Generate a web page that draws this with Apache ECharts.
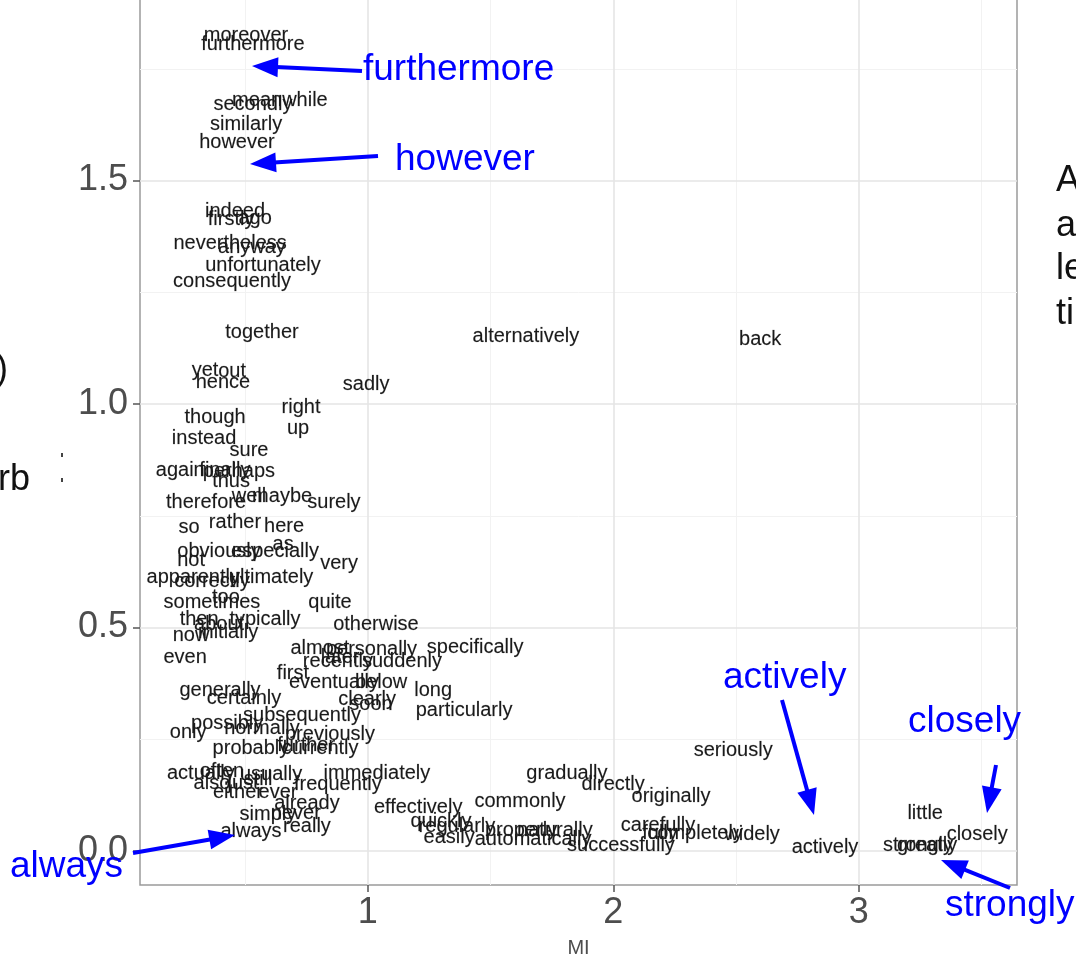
<!DOCTYPE html>
<html>
<head>
<meta charset="utf-8">
<script src="https://cdn.jsdelivr.net/npm/echarts@6/dist/echarts.min.js"></script>
<style>
  html, body { margin: 0; padding: 0; background: #ffffff; }
  #chart { width: 1076px; height: 957px; }
</style>
</head>
<body>
<div id="chart"></div>
<script>
// Adverbs placed by their MI score (x) and their score on the vertical scale (y)
const words = [
  'moreover', 'furthermore', 'meanwhile', 'secondly', 'similarly', 'however',
  'indeed', 'firstly', 'ago', 'nevertheless', 'anyway', 'unfortunately', 'consequently',
  'together', 'alternatively', 'back',
  'yet', 'out', 'hence', 'sadly', 'right', 'though', 'up', 'instead', 'sure',
  'again', 'finally', 'perhaps', 'thus', 'well', 'maybe', 'therefore', 'surely',
  'so', 'rather', 'here', 'as', 'obviously', 'not', 'especially', 'very',
  'apparently', 'correctly', 'ultimately', 'too', 'sometimes', 'quite',
  'then', 'typically', 'about', 'now', 'initially', 'otherwise', 'even',
  'almost', 'personally', 'specifically', 'later', 'recently', 'suddenly',
  'first', 'eventually', 'below', 'long', 'clearly', 'soon', 'particularly',
  'generally', 'certainly', 'subsequently', 'possibly', 'normally', 'only',
  'previously', 'probably', 'currently', 'further',
  'actually', 'often', 'usually', 'immediately', 'also', 'just', 'still',
  'frequently', 'either', 'ever', 'already', 'effectively', 'simply', 'never',
  'really', 'always',
  'gradually', 'directly', 'commonly', 'originally', 'quickly', 'regularly',
  'properly', 'easily', 'automatically', 'naturally', 'successfully',
  'carefully', 'fully', 'completely', 'widely', 'seriously', 'actively',
  'little', 'closely', 'strongly', 'greatly'
];

const miValues = [
  0.504, 0.532, 0.642, 0.532, 0.504, 0.467,
  0.459, 0.443, 0.541, 0.439, 0.528, 0.573, 0.447,
  0.569, 1.644, 2.598,
  0.337, 0.447, 0.410, 0.993, 0.728, 0.378, 0.716, 0.333, 0.516,
  0.236, 0.418, 0.475, 0.443, 0.516, 0.651, 0.341, 0.862,
  0.272, 0.459, 0.659, 0.655, 0.394, 0.280, 0.622, 0.883,
  0.289, 0.365, 0.606, 0.422, 0.365, 0.846,
  0.313, 0.581, 0.394, 0.280, 0.431, 1.033, 0.256,
  0.805, 1.015, 1.437, 0.887, 0.878, 1.139,
  0.695, 0.862, 1.054, 1.266, 0.997, 1.013, 1.392,
  0.398, 0.496, 0.732, 0.427, 0.569, 0.268,
  0.846, 0.524, 0.806, 0.749,
  0.320, 0.406, 0.606, 1.037, 0.365, 0.492, 0.553,
  0.878, 0.471, 0.634, 0.752, 1.205, 0.593, 0.707,
  0.752, 0.524,
  1.811, 1.999, 1.620, 2.235, 1.298, 1.363,
  1.624, 1.331, 1.673, 1.762, 2.031,
  2.182, 2.190, 2.333, 2.565, 2.488, 2.862,
  3.270, 3.482, 3.241, 3.278
];

const scoreValues = [
  1.824, 1.805, 1.678, 1.671, 1.626, 1.586,
  1.430, 1.412, 1.414, 1.360, 1.351, 1.309, 1.275,
  1.159, 1.152, 1.145,
  1.076, 1.072, 1.049, 1.043, 0.993, 0.969, 0.946, 0.922, 0.895,
  0.852, 0.852, 0.850, 0.826, 0.794, 0.794, 0.779, 0.779,
  0.723, 0.736, 0.727, 0.685, 0.671, 0.651, 0.669, 0.644,
  0.613, 0.602, 0.613, 0.568, 0.555, 0.555,
  0.517, 0.519, 0.506, 0.483, 0.488, 0.506, 0.432,
  0.454, 0.450, 0.456, 0.434, 0.423, 0.423,
  0.398, 0.376, 0.376, 0.360, 0.338, 0.327, 0.315,
  0.360, 0.342, 0.304, 0.286, 0.275, 0.266,
  0.260, 0.230, 0.230, 0.237,
  0.174, 0.179, 0.172, 0.174, 0.152, 0.152, 0.159,
  0.148, 0.130, 0.132, 0.107, 0.098, 0.081, 0.085,
  0.054, 0.043,
  0.174, 0.148, 0.110, 0.121, 0.065, 0.054,
  0.047, 0.031, 0.025, 0.047, 0.013,
  0.058, 0.040, 0.040, 0.038, 0.226, 0.009,
  0.083, 0.038, 0.013, 0.013
];

// Axis ticks and background grid
const xTickValues = [1, 2, 3];
const yTickValues = [0, 0.5, 1.0, 1.5];
const xMinorValues = [0.5, 1.5, 2.5, 3.5];
const yMinorValues = [0.25, 0.75, 1.25, 1.75];

// Blue call-outs
const calloutTexts = ['furthermore', 'however', 'actively', 'closely', 'strongly', 'always'];

const FONT = "'Liberation Sans', Arial, Helvetica, sans-serif";
const chart = echarts.init(document.getElementById('chart'), null, { renderer: 'canvas' });

const points = words.map((w, i) => ({ name: w, value: [miValues[i], scoreValues[i]] }));

const minorStyle = { color: '#f2f2f2', width: 1, type: 'solid' };
const majorStyle = { color: '#e5e5e5', width: 1.6, type: 'solid' };
const gridLines = []
  .concat(xMinorValues.map(v => ({ xAxis: v, lineStyle: minorStyle })))
  .concat(yMinorValues.map(v => ({ yAxis: v, lineStyle: minorStyle })))
  .concat(xTickValues.map(v => ({ xAxis: v, lineStyle: majorStyle })))
  .concat(yTickValues.map(v => ({ yAxis: v, lineStyle: majorStyle })));

// Arrow helper: shaft plus a filled head
function arrow(x1, y1, x2, y2) {
  const dx = x2 - x1, dy = y2 - y1;
  const len = Math.sqrt(dx * dx + dy * dy);
  const ux = dx / len, uy = dy / len;
  const headLen = 26, headHalf = 10;
  const bx = x2 - ux * headLen, by = y2 - uy * headLen;
  const px = -uy, py = ux;
  return [
    { type: 'line', silent: true, z: 50,
      shape: { x1: x1, y1: y1, x2: bx + ux * 2, y2: by + uy * 2 },
      style: { stroke: '#0000ff', lineWidth: 4 } },
    { type: 'polygon', silent: true, z: 50,
      shape: { points: [[x2, y2], [bx + px * headHalf, by + py * headHalf], [bx - px * headHalf, by - py * headHalf]] },
      style: { fill: '#0000ff' } }
  ];
}

const calloutLayout = [
  { x: 363, y: 70,  tail: [362, 71],  tip: [252, 66] },
  { x: 395, y: 160, tail: [378, 156], tip: [250, 164] },
  { x: 723, y: 678, tail: [782, 700], tip: [814, 815] },
  { x: 908, y: 722, tail: [996, 765], tip: [987, 813] },
  { x: 945, y: 906, tail: [1010, 888], tip: [941, 860] },
  { x: 10,  y: 867, tail: [133, 853], tip: [235, 835] }
];

const graphics = [];
calloutTexts.forEach((t, i) => {
  const c = calloutLayout[i];
  graphics.push({
    type: 'text', silent: true, z: 50, x: c.x, y: c.y,
    style: { text: t, fill: '#0000ff', font: '37px ' + FONT, textAlign: 'left', textVerticalAlign: 'middle' }
  });
  arrow(c.tail[0], c.tail[1], c.tip[0], c.tip[1]).forEach(g => graphics.push(g));
});

// Surrounding slide text fragments at the page edges
const sideTexts = [
  { t: ')',  x: -4,   y: 370 },
  { t: 'rb', x: -2,   y: 480 },
  { t: 'A',  x: 1056, y: 181 },
  { t: 'a',  x: 1056, y: 226 },
  { t: 'le', x: 1056, y: 269 },
  { t: 'ti', x: 1056, y: 314 }
];
sideTexts.forEach(s => {
  graphics.push({
    type: 'text', silent: true, z: 50, x: s.x, y: s.y,
    style: { text: s.t, fill: '#111111', font: '36px ' + FONT, textAlign: 'left', textVerticalAlign: 'middle' }
  });
});
graphics.push({ type: 'rect', silent: true, shape: { x: 61, y: 453, width: 2, height: 4 }, style: { fill: '#444' } });
graphics.push({ type: 'rect', silent: true, shape: { x: 61, y: 478, width: 2, height: 4 }, style: { fill: '#444' } });

const option = {
  animation: false,
  backgroundColor: '#ffffff',
  grid: {
    left: 140, right: 59, top: -21, bottom: 72,
    show: true, borderColor: '#9a9a9a', borderWidth: 1.5, backgroundColor: 'transparent',
    containLabel: false, outerBoundsMode: 'none'
  },
  xAxis: {
    type: 'value', min: 0.0721, max: 3.644,
    name: 'MI', nameLocation: 'middle', nameGap: 53,
    nameTextStyle: { color: '#4d4d4d', fontSize: 20, fontFamily: FONT },
    axisLine: { show: false, onZero: false },
    splitLine: { show: false },
    axisTick: { show: true, inside: false, length: 7, customValues: xTickValues, lineStyle: { color: '#555', width: 1.5 } },
    axisLabel: { customValues: xTickValues, color: '#4d4d4d', fontSize: 36, fontFamily: FONT, margin: 10 }
  },
  yAxis: {
    type: 'value', min: -0.076, max: 1.9508,
    axisLine: { show: false, onZero: false },
    splitLine: { show: false },
    axisTick: { show: true, inside: false, length: 7, customValues: yTickValues, lineStyle: { color: '#555', width: 1.5 } },
    axisLabel: {
      customValues: yTickValues, color: '#4d4d4d', fontSize: 36, fontFamily: FONT, margin: 12,
      formatter: v => Number(v).toFixed(1)
    }
  },
  series: [
    {
      type: 'scatter', name: 'grid', data: [], silent: true, z: 0,
      markLine: { silent: true, z: 0, symbol: ['none', 'none'], label: { show: false }, animation: false, data: gridLines }
    },
    {
      type: 'scatter', name: 'adverbs', data: points, z: 5, silent: true,
      symbolSize: 0, itemStyle: { color: '#1a1a1a', opacity: 1 },
      label: {
        show: true, position: 'inside', formatter: p => p.name,
        color: '#1a1a1a', opacity: 1, fontSize: 20, fontFamily: FONT,
        textBorderColor: 'rgba(26,26,26,0.4)', textBorderWidth: 0.3
      },
      labelLayout: { hideOverlap: false }
    }
  ],
  graphic: graphics
};

chart.setOption(option);
</script>
</body>
</html>
